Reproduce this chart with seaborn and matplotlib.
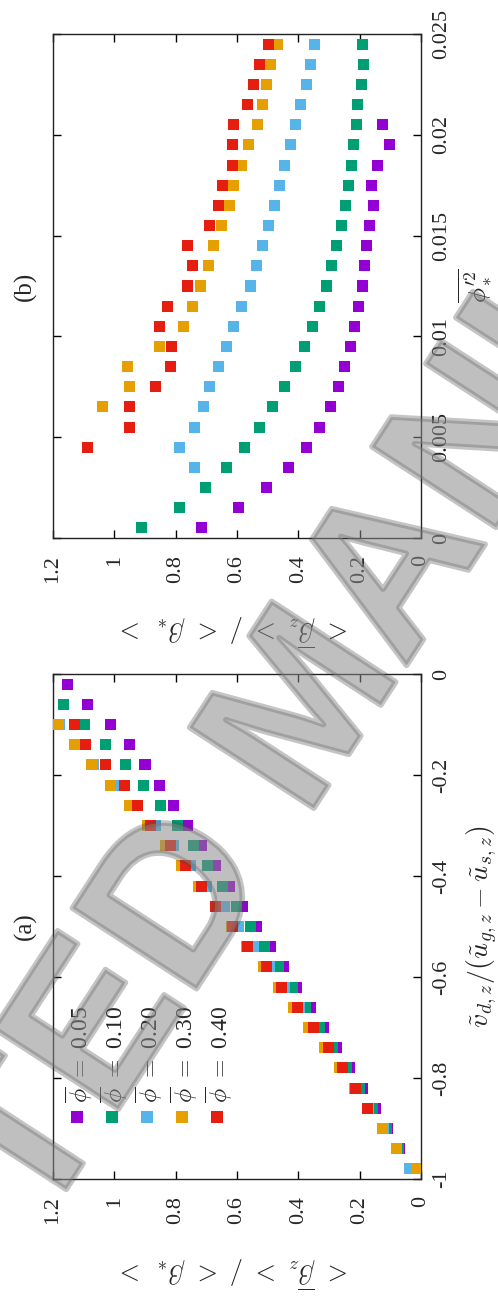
import numpy as np
import pandas as pd
import matplotlib
matplotlib.use("Agg")
import matplotlib.pyplot as plt
import matplotlib.patheffects as pe
import seaborn as sns

nan = np.nan

# ---------------- data ----------------
PHI_LABELS = ["0.05", "0.10", "0.20", "0.30", "0.40"]
COLORS = ["#9400d3", "#009e73", "#56b4e9", "#e69f00", "#e51e10"]

# panel (a): normalised drift velocity (bin centres)
A_V = [-0.02, -0.06, -0.10, -0.14, -0.18, -0.22, -0.26, -0.30, -0.34, -0.38,
       -0.42, -0.46, -0.50, -0.54, -0.58, -0.62, -0.66, -0.70, -0.74, -0.78,
       -0.82, -0.86, -0.90, -0.94, -0.98]
A_PHI005 = [1.154, 1.086, 1.014, 0.952, 0.900, 0.854, 0.808, 0.763, 0.716, 0.671,
            0.626, 0.583, 0.537, 0.492, 0.448, 0.406, 0.360, 0.319, 0.276, 0.234,
            0.191, 0.149, 0.110, 0.071, 0.030]
A_PHI010 = [nan, 1.167, 1.098, 1.030, 0.965, 0.906, 0.848, 0.795, 0.743, 0.697,
            0.648, 0.603, 0.557, 0.509, 0.465, 0.420, 0.378, 0.332, 0.289, 0.244,
            0.201, 0.159, 0.113, 0.074, 0.032]
A_PHI020 = [nan, nan, 1.179, 1.108, 1.069, 1.004, 0.939, 0.867, 0.808, 0.753,
            0.701, 0.642, 0.596, 0.545, 0.493, 0.444, 0.397, 0.357, 0.308, 0.262,
            0.215, 0.173, 0.123, 0.079, 0.038]
A_PHI030 = [nan, nan, 1.181, 1.131, 1.076, 1.014, 0.952, 0.893, 0.834, 0.782,
            0.724, 0.668, 0.618, 0.569, 0.515, 0.466, 0.417, 0.368, 0.316, 0.267,
            0.218, 0.172, 0.126, 0.081, 0.016]
A_PHI040 = [nan, nan, 1.131, 1.094, 1.030, 0.968, 0.926, 0.883, 0.818, 0.769,
            0.717, 0.671, 0.616, 0.567, 0.505, 0.456, 0.404, 0.351, 0.302, 0.257,
            0.214, 0.175, nan, nan, nan]

# panel (b): local volume-fraction variance (bin centres)
B_PHI2 = [0.0005, 0.0015, 0.0025, 0.0035, 0.0045, 0.0055, 0.0065, 0.0075, 0.0085,
          0.0095, 0.0105, 0.0115, 0.0125, 0.0135, 0.0145, 0.0155, 0.0165, 0.0175,
          0.0185, 0.0195, 0.0205, 0.0215, 0.0225, 0.0235, 0.0245]
B_PHI005 = [0.717, 0.596, 0.505, 0.433, 0.374, 0.332, 0.296, 0.270, 0.250, 0.231,
            0.218, 0.205, 0.191, 0.185, 0.178, 0.169, 0.156, 0.162, 0.143, 0.103,
            0.126, nan, nan, nan, nan]
B_PHI010 = [0.913, 0.789, 0.704, 0.635, 0.577, 0.528, 0.485, 0.446, 0.410, 0.381,
            0.355, 0.332, 0.309, 0.293, 0.276, 0.260, 0.247, 0.237, 0.227, 0.221,
            0.211, 0.208, 0.195, 0.188, 0.191]
B_PHI020 = [nan, nan, nan, 0.740, 0.786, 0.740, 0.710, 0.691, 0.661, 0.635,
            0.613, 0.586, 0.557, 0.537, 0.518, 0.498, 0.479, 0.462, 0.446, 0.426,
            0.410, 0.394, 0.374, 0.361, 0.348]
B_PHI030 = [nan, nan, nan, nan, nan, nan, 1.040, 0.952, 0.958, 0.854,
            0.776, 0.746, 0.720, 0.694, 0.678, 0.652, 0.626, 0.613, 0.585, 0.564,
            0.534, 0.518, 0.505, 0.492, 0.468]
B_PHI040 = [nan, nan, nan, nan, 1.086, 0.949, 0.949, 0.867, 0.818, 0.812,
            0.854, 0.828, 0.763, 0.746, 0.763, 0.691, 0.661, 0.648, 0.616, 0.616,
            0.613, 0.567, 0.547, 0.528, 0.498]

A_TICKS_V = [-1, -0.8, -0.6, -0.4, -0.2, 0]
A_TICKLABELS_V = ["-1", "-0.8", "-0.6", "-0.4", "-0.2", "0"]
B_TICKS_PHI2 = [0, 0.005, 0.01, 0.015, 0.02, 0.025]
B_TICKLABELS_PHI2 = ["0", "0.005", "0.01", "0.015", "0.02", "0.025"]
BETA_TICKS = [0, 0.2, 0.4, 0.6, 0.8, 1.0, 1.2]
BETA_TICKLABELS = ["0", "0.2", "0.4", "0.6", "0.8", "1", "1.2"]


def long_frame(pos, series):
    frames = []
    for lab, vals in zip(PHI_LABELS, series):
        frames.append(pd.DataFrame({"pos": pos, "beta": vals, "phi": lab}))
    return pd.concat(frames, ignore_index=True).dropna()


dfA = long_frame(A_V, [A_PHI005, A_PHI010, A_PHI020, A_PHI030, A_PHI040])
dfB = long_frame(B_PHI2, [B_PHI005, B_PHI010, B_PHI020, B_PHI030, B_PHI040])

# ---------------- style ----------------
sns.set_style("ticks")
plt.rcParams["font.family"] = ["Liberation Serif", "DejaVu Serif"]
plt.rcParams["mathtext.fontset"] = "cm"

W, H = 498, 1296
fig = plt.figure(figsize=(W / 100, H / 100), dpi=100)


def frac_axes(x0, y0, x1, y1):
    return fig.add_axes([x0 / W, 1 - y1 / H, (x1 - x0) / W, (y1 - y0) / H])


axB = frac_axes(53, 34, 421, 538)
axA = frac_axes(53, 674, 421, 1179)

TICK_FS = 16
LABEL_FS = 19
YLABEL = r"$<\ \overline{\beta}_z\ >\ /\ <\ \beta_*\ >$"

for ax, df, ticks, ticklabels, lim, rlabel, rfs, rx, title in [
    (axA, dfA, A_TICKS_V, A_TICKLABELS_V, (-1, 0),
     r"$\tilde{v}_{d,z}/(\tilde{u}_{g,z}-\tilde{u}_{s,z})$", 20, 1.165, "(a)"),
    (axB, dfB, B_TICKS_PHI2, B_TICKLABELS_PHI2, (0, 0.025),
     r"$\overline{\phi_*^{\prime 2}}$", 18, 1.148, "(b)"),
]:
    sns.scatterplot(data=df, x="beta", y="pos", hue="phi", hue_order=PHI_LABELS,
                    palette=COLORS, marker="s", s=63, linewidth=0, alpha=1,
                    legend=False, ax=ax, zorder=3)
    ax.set_xlim(1.2, 0)
    ax.set_ylim(*lim)
    ax.set_xticks(BETA_TICKS)
    ax.set_xticklabels(BETA_TICKLABELS, rotation=90, fontsize=TICK_FS)
    ax.set_yticks(ticks)
    ax.yaxis.tick_right()
    ax.set_yticklabels(ticklabels, rotation=90, fontsize=TICK_FS, va="center")
    ax.tick_params(axis="x", direction="in", length=6, width=1, pad=12,
                   top=True, bottom=True, color="black")
    ax.tick_params(axis="y", direction="in", length=6, width=1, pad=8,
                   left=True, right=True, labelleft=False, labelright=True,
                   color="black")
    for sp in ax.spines.values():
        sp.set_visible(True)
        sp.set_linewidth(1.0)
        sp.set_color("#222222")
    ax.set_xlabel(YLABEL, fontsize=LABEL_FS, rotation=180)
    ax.xaxis.label.set_ha("center")
    ax.xaxis.label.set_va("center")
    ax.xaxis.set_label_coords(0.5, -0.184)
    ax.yaxis.set_label_position("right")
    ax.set_ylabel(rlabel, fontsize=rfs, rotation=90)
    ax.yaxis.label.set_rotation_mode("default")
    ax.yaxis.label.set_ha("center")
    ax.yaxis.label.set_va("center")
    ax.yaxis.set_label_coords(rx, 0.5)
    ax.text(-0.076, 0.5, title, rotation=90, ha="center", va="center",
            fontsize=18, transform=ax.transAxes)

# legend of panel (a), laid out in the rotated orientation
for i, (lab, col) in enumerate(zip(PHI_LABELS, COLORS)):
    xf = 0.065 + 0.095 * i
    axA.scatter([xf], [0.123], marker="s", s=63, color=col, linewidth=0,
                transform=axA.transAxes, zorder=4, clip_on=False)
    axA.text(xf + 0.006, 0.150, r"$\overline{\phi}\ =\ $" + lab, rotation=90,
             ha="center", va="bottom", fontsize=17, transform=axA.transAxes)

# watermark
fig.text(0.625, 0.452, "ACCEPTED MANUSCRIPT", rotation=57, rotation_mode="anchor",
         ha="center", va="center", fontsize=155, fontweight="bold",
         family="Liberation Sans", color="#8a8a8a", alpha=0.32, zorder=10,
         path_effects=[pe.withStroke(linewidth=4, foreground="#4a4a4a")])

fig.savefig("out.png", dpi=100)
